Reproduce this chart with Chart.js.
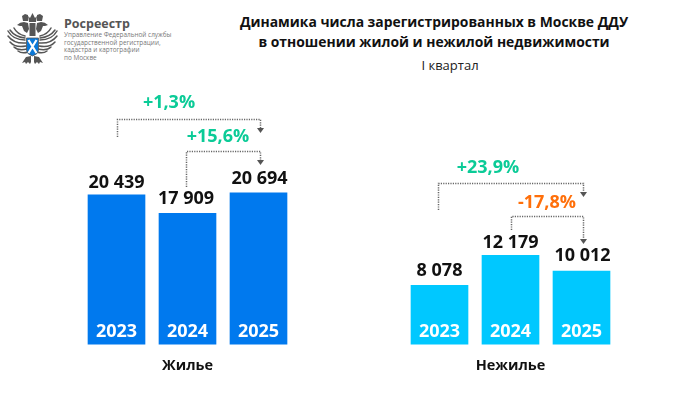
<!DOCTYPE html>
<html lang="ru">
<head>
<meta charset="utf-8">
<title>Динамика ДДУ</title>
<script src="https://cdn.jsdelivr.net/npm/chart.js@4"></script>
<style>
  html, body { margin: 0; padding: 0; background: #fff; }
  body { width: 698px; height: 393px; position: relative; overflow: hidden; font-family: "Open Sans", sans-serif; }
  canvas { position: absolute; top: 0; }
  #chartHousing { left: 0; }
  #chartOther { left: 349px; }
  .abs { position: absolute; white-space: nowrap; }
  #title { left: 181px; width: 506px; top: 12px; text-align: center; font-weight: 700; font-size: 13.9px; line-height: 20px; color: #111; }
  #subtitle { left: 350px; width: 200px; top: 57px; text-align: center; font-size: 13px; line-height: 16px; color: #222; }
  #brand { left: 64px; top: 15px; font-weight: 700; font-size: 12.5px; line-height: 18px; color: #555; }
  #brandSub { left: 64px; top: 31px; font-size: 6.4px; line-height: 7.5px; color: #777; }
  #logo { left: 0; top: 0; }
</style>
</head>
<body>
<svg id="logo" class="abs" width="65" height="70" viewBox="0 0 65 70">
  <defs>
    <g id="halfEagle">
      <path d="M28 15 l-3 -1 l-3 2 l1 5 h5z" fill="#555"/>
      <path d="M24 22 q-4 0 -7 3 l3 1 l2 0 l2 5 l3 2 l2 -4 l-1 -6z" fill="#555"/>
      <g stroke="#555" stroke-width="1.5" stroke-linecap="round" fill="none">
        <path d="M25 36 q-8 -2 -11 -8"/>
        <path d="M25 38 q-10 -1 -15 -8"/>
        <path d="M25 40 q-12 0 -17 -9"/>
        <path d="M26 43 q-12 1 -18 -7"/>
        <path d="M26 46 q-11 2 -16 -4"/>
        <path d="M27 49 q-9 2 -13 -2"/>
        <path d="M28 52 q-6 2 -10 -1"/>
      </g>
      <path d="M31 56 l-5 1 l-4 6 l3 -1 l1 2 l2 -2 l2 2 l1 -2z" fill="#555"/>
    </g>
  </defs>
  <use href="#halfEagle"/>
  <use href="#halfEagle" transform="translate(65 0) scale(-1 1)"/>
  <path d="M29 22 h7 l1 -6 l-2 2 l-2.500 -5 l-2.500 5 l-2 -2z" fill="#555"/>
  <rect x="29.500" y="23" width="6" height="13" fill="#555"/>
  <path d="M26.500 38 h12 v12 q0 4 -6 6 q-6 -2 -6 -6z" fill="#0a78d8" stroke="#555" stroke-width=".8"/>
  <path d="M28.500 40 l8 13 M36.500 40 l-8 13" stroke="#fff" stroke-width="2.200"/>
</svg>
<div id="brand" class="abs">Росреестр</div>
<div id="brandSub" class="abs">Управление Федеральной службы<br>государственной регистрации,<br>кадастра и картографии<br>по Москве</div>
<div id="title" class="abs">Динамика числа зарегистрированных в Москве ДДУ<br>в отношении жилой и нежилой недвижимости</div>
<div id="subtitle" class="abs">I квартал</div>
<canvas id="chartHousing" width="349" height="393"></canvas>
<canvas id="chartOther" width="349" height="393"></canvas>
<script>
// ---------------------------
//   DATOS
// ---------------------------
const years = ["2023", "2024", "2025"];
const housingValues = [20439, 17909, 20694];
const otherValues = [8078, 12179, 10012];
const housingName = "Жилье";
const otherName = "Нежилье";
const housingChanges = ["+1,3%", "+15,6%"];
const otherChanges = ["+23,9%", "-17,8%"];

const GREEN = "#0bcb97";
const ORANGE = "#ff6f0a";
const Y_MAX = 35000;

// Brackets: from/to are bar indexes, the rest is where they sit on the canvas
const housingBrackets = [
  { text: housingChanges[0], color: GREEN, from: 0, to: 2, shift: 0, top: 119.5, start: 137, tip: 133, labelX: 169, labelY: 103 },
  { text: housingChanges[1], color: GREEN, from: 1, to: 2, shift: -2, top: 151.5, start: 187, tip: 165, labelX: 218, labelY: 137 }
];
const otherBrackets = [
  { text: otherChanges[0], color: GREEN, from: 0, to: 2, shift: -2, top: 183.5, start: 210, tip: 197, labelX: 139, labelY: 168 },
  { text: otherChanges[1], color: ORANGE, from: 1, to: 2, shift: 0, top: 216.5, start: 230, tip: 244, labelX: 198, labelY: 203 }
];
// Small nudges of the value labels, the source placed them by hand
const housingNudge = [[0, 0], [-1.5, -2], [1, -2]];
const otherNudge = [[0, -2], [0, 0], [1, -3]];

function formatValue(v) {
  return String(v).replace(/\B(?=(\d{3})+$)/g, " ");
}

// Etiquetas de barras y corchetes
const barTextPlugin = {
  id: "barText",
  afterDatasetsDraw(chart, args, opts) {
    const ctx = chart.ctx;
    const bars = chart.getDatasetMeta(0).data;
    const values = chart.data.datasets[0].data;
    const bottom = chart.scales.y.getPixelForValue(0);
    ctx.save();
    ctx.textAlign = "center";
    ctx.textBaseline = "alphabetic";
    ctx.font = "700 18px 'Open Sans'";
    bars.forEach((bar, i) => {
      const nudge = opts.nudge[i];
      ctx.fillStyle = "#111";
      ctx.fillText(formatValue(values[i]), bar.x + nudge[0], bar.y - 7 + nudge[1]);
      ctx.fillStyle = "#fff";
      ctx.fillText(chart.data.labels[i], bar.x, bottom - 8);
    });

    opts.brackets.forEach((b) => {
      const x1 = Math.round(bars[b.from].x + b.shift) + 0.5;
      const x2 = Math.round(bars[b.to].x + 1.5) + 0.5;
      ctx.strokeStyle = "#666";
      ctx.lineWidth = 1.5;
      ctx.setLineDash([1.2, 1.2]);
      ctx.beginPath();
      ctx.moveTo(x1, b.start);
      ctx.lineTo(x1, b.top);
      ctx.lineTo(x2, b.top);
      ctx.lineTo(x2, b.tip - 4);
      ctx.stroke();
      ctx.setLineDash([]);
      ctx.fillStyle = "#555";
      ctx.beginPath();
      ctx.moveTo(x2 - 3.5, b.tip - 5);
      ctx.lineTo(x2 + 3.5, b.tip - 5);
      ctx.lineTo(x2, b.tip);
      ctx.closePath();
      ctx.fill();

      ctx.fillStyle = b.color;
      ctx.font = "700 18px 'Open Sans'";
      ctx.textBaseline = "middle";
      ctx.fillText(b.text, b.labelX, b.labelY);
      ctx.textBaseline = "alphabetic";
    });
    ctx.restore();
  }
};

function createBarChart(id, values, color, name, brackets, nudge, padLeft, padRight) {
  return new Chart(document.getElementById(id), {
    type: "bar",
    data: {
      labels: years,
      datasets: [{ data: values, backgroundColor: color, barThickness: 57, borderWidth: 0 }]
    },
    options: {
      responsive: false,
      animation: false,
      devicePixelRatio: 1,
      layout: { padding: { left: padLeft, right: padRight, top: 88, bottom: 18 } },
      plugins: {
        legend: { display: false },
        tooltip: { enabled: false },
        barText: { brackets: brackets, nudge: nudge }
      },
      scales: {
        x: {
          grid: { display: false },
          border: { display: false },
          ticks: { display: false },
          title: {
            display: true,
            text: name,
            color: "#111",
            font: { family: "Open Sans", size: 14.5, weight: "700", lineHeight: 1.2 },
            padding: { top: 5, bottom: 0 }
          }
        },
        y: { display: false, min: 0, max: Y_MAX }
      }
    },
    plugins: [barTextPlugin]
  });
}

createBarChart("chartHousing", housingValues, "#0079ee", housingName, housingBrackets, housingNudge, 81, 55);
createBarChart("chartOther", otherValues, "#00c8ff", otherName, otherBrackets, otherNudge, 55, 81);
</script>
</body>
</html>
